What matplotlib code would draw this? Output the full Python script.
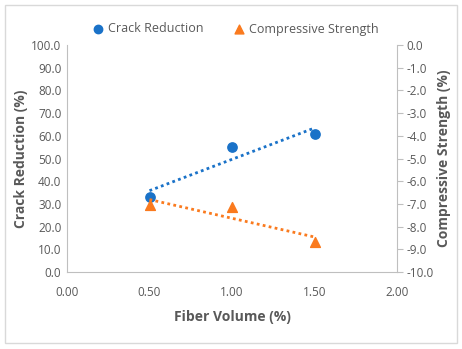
import matplotlib.pyplot as plt
import numpy as np
from matplotlib.patches import Rectangle

plt.rcParams['font.family'] = ['Open Sans', 'DejaVu Sans']

fiber_volume = [0.5, 1.0, 1.5]
crack_reduction = [33.2, 54.9, 60.8]
compressive_strength = [-7.05, -7.15, -8.7]

blue = '#1A72C8'
orange = '#FA7A1E'
gray = '#595959'

fig = plt.figure(figsize=(4.62, 3.49), dpi=100)
ax = fig.add_axes([67/462, 1-272/349, 330/462, 227/349])
ax2 = ax.twinx()

ax.scatter(fiber_volume, crack_reduction, s=45, color=blue, marker='o', zorder=3, label='Crack Reduction')
ax2.scatter(fiber_volume, compressive_strength, s=50, color=orange, marker='^', zorder=3, label='Compressive Strength')

# linear trendlines
x = np.array(fiber_volume)
p1 = np.polyfit(x, crack_reduction, 1)
p2 = np.polyfit(x, compressive_strength, 1)
ax.plot(x, np.polyval(p1, x), linestyle=(0, (1, 1.2)), color=blue, lw=2)
ax2.plot(x, np.polyval(p2, x), linestyle=(0, (1, 1.2)), color=orange, lw=2)

ax.set_xlim(0, 2)
ax.set_ylim(0, 100)
ax2.set_ylim(-10, 0)
ax.set_xticks(np.arange(0, 2.01, 0.5))
ax.set_xticklabels([f'{v:.2f}' for v in np.arange(0, 2.01, 0.5)])
ax.set_yticks(np.arange(0, 101, 10))
ax.set_yticklabels([f'{v:.1f}' for v in np.arange(0, 101, 10)])
ax2.set_yticks(np.arange(-10, 0.1, 1))
ax2.set_yticklabels([f'{v:.1f}' for v in np.arange(-10, 0.1, 1)])

for a in (ax, ax2):
    for s in a.spines.values():
        s.set_visible(False)
ax.spines['left'].set_visible(True)
ax.spines['left'].set_color('#BFBFBF')
ax.spines['bottom'].set_visible(True)
ax.spines['bottom'].set_color('#BFBFBF')
ax2.spines['right'].set_visible(True)
ax2.spines['right'].set_color('#BFBFBF')

ax.tick_params(axis='x', length=0, labelsize=8.5, labelcolor=gray, pad=10)
ax.tick_params(axis='y', length=0, labelsize=8.5, labelcolor=gray, pad=4)
ax2.tick_params(axis='y', length=4, color='#BFBFBF', labelsize=8.5, labelcolor=gray, pad=3)

ax.set_xlabel('Fiber Volume (%)', fontsize=10, fontweight='bold', color=gray, labelpad=8)
ax.set_ylabel('Crack Reduction (%)', fontsize=10, fontweight='bold', color=gray, labelpad=2)
ax2.set_ylabel('Compressive Strength (%)', fontsize=10, fontweight='bold', color=gray, labelpad=2)

h1, l1 = ax.get_legend_handles_labels()
h2, l2 = ax2.get_legend_handles_labels()
fig.legend(h1 + h2, l1 + l2, loc='center', bbox_to_anchor=(232/462, 1-29/349), ncol=2,
           frameon=False, fontsize=9, labelcolor=gray, handletextpad=-0.2, columnspacing=1.8,
           markerscale=0.9)

fig.patches.append(Rectangle((5/462, 6/349), 452/462, 338/349, transform=fig.transFigure,
                             fill=False, edgecolor='#D9D9D9', lw=1))

fig.savefig('out.png', dpi=100)
